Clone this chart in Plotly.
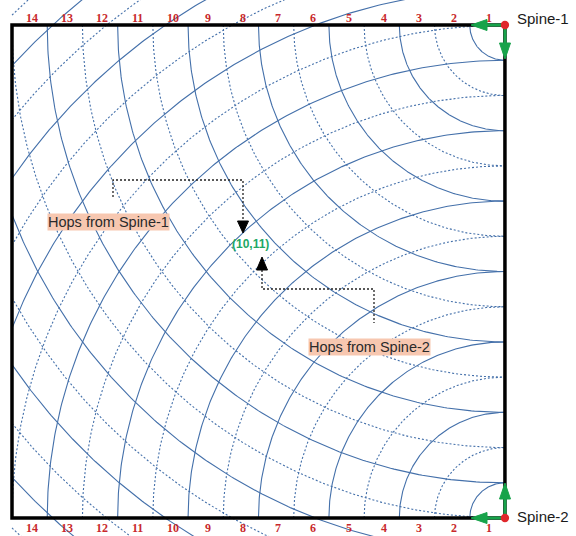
import numpy as np
import plotly.graph_objects as go

# ---------------- data ----------------
SIDE = 14                                  # hops along each edge of the box
hops = list(range(1, 21))                  # hop rings drawn around each spine
spine_names = ["Spine-1", "Spine-2"]
spine_x = [14, 14]
spine_y = [14, 0]
spine_dir = [-1, 1]                        # rings open downward (Spine-1) / upward (Spine-2)
edge_labels = [str(k) for k in range(1, SIDE + 1)]
cell_label = "(10,11)"
hop_label_texts = ["Hops from Spine-1", "Hops from Spine-2"]

# ---------------- layout helpers ----------------
W, H = 576, 536
PX = 35.21           # pixels per hop unit
OX, OY = 12, 518     # pixel position of (0, 0)


def P(px, py):
    return ((px - OX) / PX, (OY - py) / PX)


RING = "#4470aa"
GREEN = "#17a34a"
RED_TXT = "#c8282c"

fig = go.Figure()

for cx, cy, sd in zip(spine_x, spine_y, spine_dir):
    for r in hops:
        t0 = np.arccos(min(1.0, cx / r))
        t = np.linspace(t0, np.pi / 2, 200)
        xs = cx - r * np.cos(t)
        ys = cy + sd * r * np.sin(t)
        fig.add_trace(go.Scatter(
            x=xs, y=ys, mode="lines", hoverinfo="skip", showlegend=False,
            line=dict(color=RING, width=1.1,
                      dash="solid" if r % 2 == 1 else "2px,2px")))

shapes = []
# outer box
shapes.append(dict(type="rect", x0=0, y0=0, x1=SIDE, y1=SIDE,
                   line=dict(color="black", width=3.5), layer="above"))


def arrow(p0, p1, color, lw, hl, hw, dash=None):
    """p0 -> p1 in pixel coordinates, head length hl and half width hw in px"""
    x0, y0 = p0
    x1, y1 = p1
    dx, dy = x1 - x0, y1 - y0
    n = (dx * dx + dy * dy) ** 0.5
    ux, uy = dx / n, dy / n
    bx, by = x1 - ux * hl, y1 - uy * hl
    a = P(x0, y0)
    b = P(bx, by)
    shapes.append(dict(type="line", x0=a[0], y0=a[1], x1=b[0], y1=b[1],
                       line=dict(color=color, width=lw, dash=dash), layer="above"))
    px_, py_ = -uy, ux
    c1 = P(bx + px_ * hw, by + py_ * hw)
    c2 = P(bx - px_ * hw, by - py_ * hw)
    tip = P(x1, y1)
    path = f"M{tip[0]},{tip[1]} L{c1[0]},{c1[1]} L{c2[0]},{c2[1]} Z"
    shapes.append(dict(type="path", path=path, fillcolor=color,
                       line=dict(color=color, width=1), layer="above"))


def polyline(pts, color, lw, dash):
    dp = [P(*p) for p in pts]
    path = "M" + " L".join(f"{x},{y}" for x, y in dp)
    shapes.append(dict(type="path", path=path,
                       line=dict(color=color, width=lw, dash=dash), layer="above"))


# green hop arrows from each spine
arrow((505, 25), (471, 25), GREEN, 3, 16, 5.5)
arrow((505, 25), (505, 59), GREEN, 3, 16, 5.5)
arrow((505, 518), (471, 518), GREEN, 3, 16, 5.5)
arrow((505, 518), (505, 483), GREEN, 3, 16, 5.5)

# dotted connectors
polyline([(113, 197), (113, 180), (243, 180), (243, 222)], "#222", 1.3, "2px,2px")
arrow((243, 222), (243, 233), "black", 1.3, 12, 5.5)
polyline([(262, 270), (262, 289), (374, 289), (374, 323)], "#222", 1.3, "2px,2px")
arrow((262, 270), (262, 257), "black", 1.3, 13, 5.5)

# red spine dots
rr = 4.2 / PX
for sx, sy in zip(spine_x, spine_y):
    shapes.append(dict(type="circle", x0=sx - rr, y0=sy - rr, x1=sx + rr, y1=sy + rr,
                       fillcolor="#e0282c", line=dict(width=0), layer="above"))

annotations = []
# edge hop numbers
for i, lab in enumerate(edge_labels):
    k = i + 1
    xk = SIDE - (k - 0.5) + 0.06
    for yy in (P(0, 17.5)[1], P(0, 527.5)[1]):
        annotations.append(dict(x=xk, y=yy, text=f"<b>{lab}</b>", showarrow=False,
                                font=dict(family="Liberation Serif", size=12, color=RED_TXT),
                                xanchor="center", yanchor="middle"))

# spine names
for name, sx, sy, py in zip(spine_names, spine_x, spine_y, (18, 516)):
    annotations.append(dict(x=P(515, 0)[0], y=P(0, py)[1], text=name, showarrow=False,
                            font=dict(family="Liberation Sans", size=15, color="#1a1a1a"),
                            xanchor="left", yanchor="middle"))

# hop labels with salmon background
for txt, (cx_, cy_) in zip(hop_label_texts, ((108.5, 221.5), (369.5, 346.5))):
    x, y = P(cx_, cy_)
    annotations.append(dict(x=x, y=y, text=txt, showarrow=False, bgcolor="#f7c7b0",
                            borderpad=0,
                            font=dict(family="Liberation Sans", size=14.5, color="#2a2a2a"),
                            xanchor="center", yanchor="middle"))

x, y = P(250, 244)
annotations.append(dict(x=x, y=y, text=f"<b>{cell_label}</b>", showarrow=False,
                        font=dict(family="Liberation Sans", size=12, color="#22a865"),
                        xanchor="center", yanchor="middle"))

fig.update_layout(
    width=W, height=H,
    margin=dict(l=0, r=0, t=0, b=0),
    paper_bgcolor="white", plot_bgcolor="white",
    showlegend=False,
    xaxis=dict(range=[(0 - OX) / PX, (W - OX) / PX], visible=False, fixedrange=True),
    yaxis=dict(range=[(OY - H) / PX, OY / PX], visible=False, fixedrange=True),
    shapes=shapes,
    annotations=annotations,
)

fig.write_html(
    "out.html",
    config={"displayModeBar": False},
    post_script="document.body.style.margin='0';document.body.style.overflow='hidden';",
)
